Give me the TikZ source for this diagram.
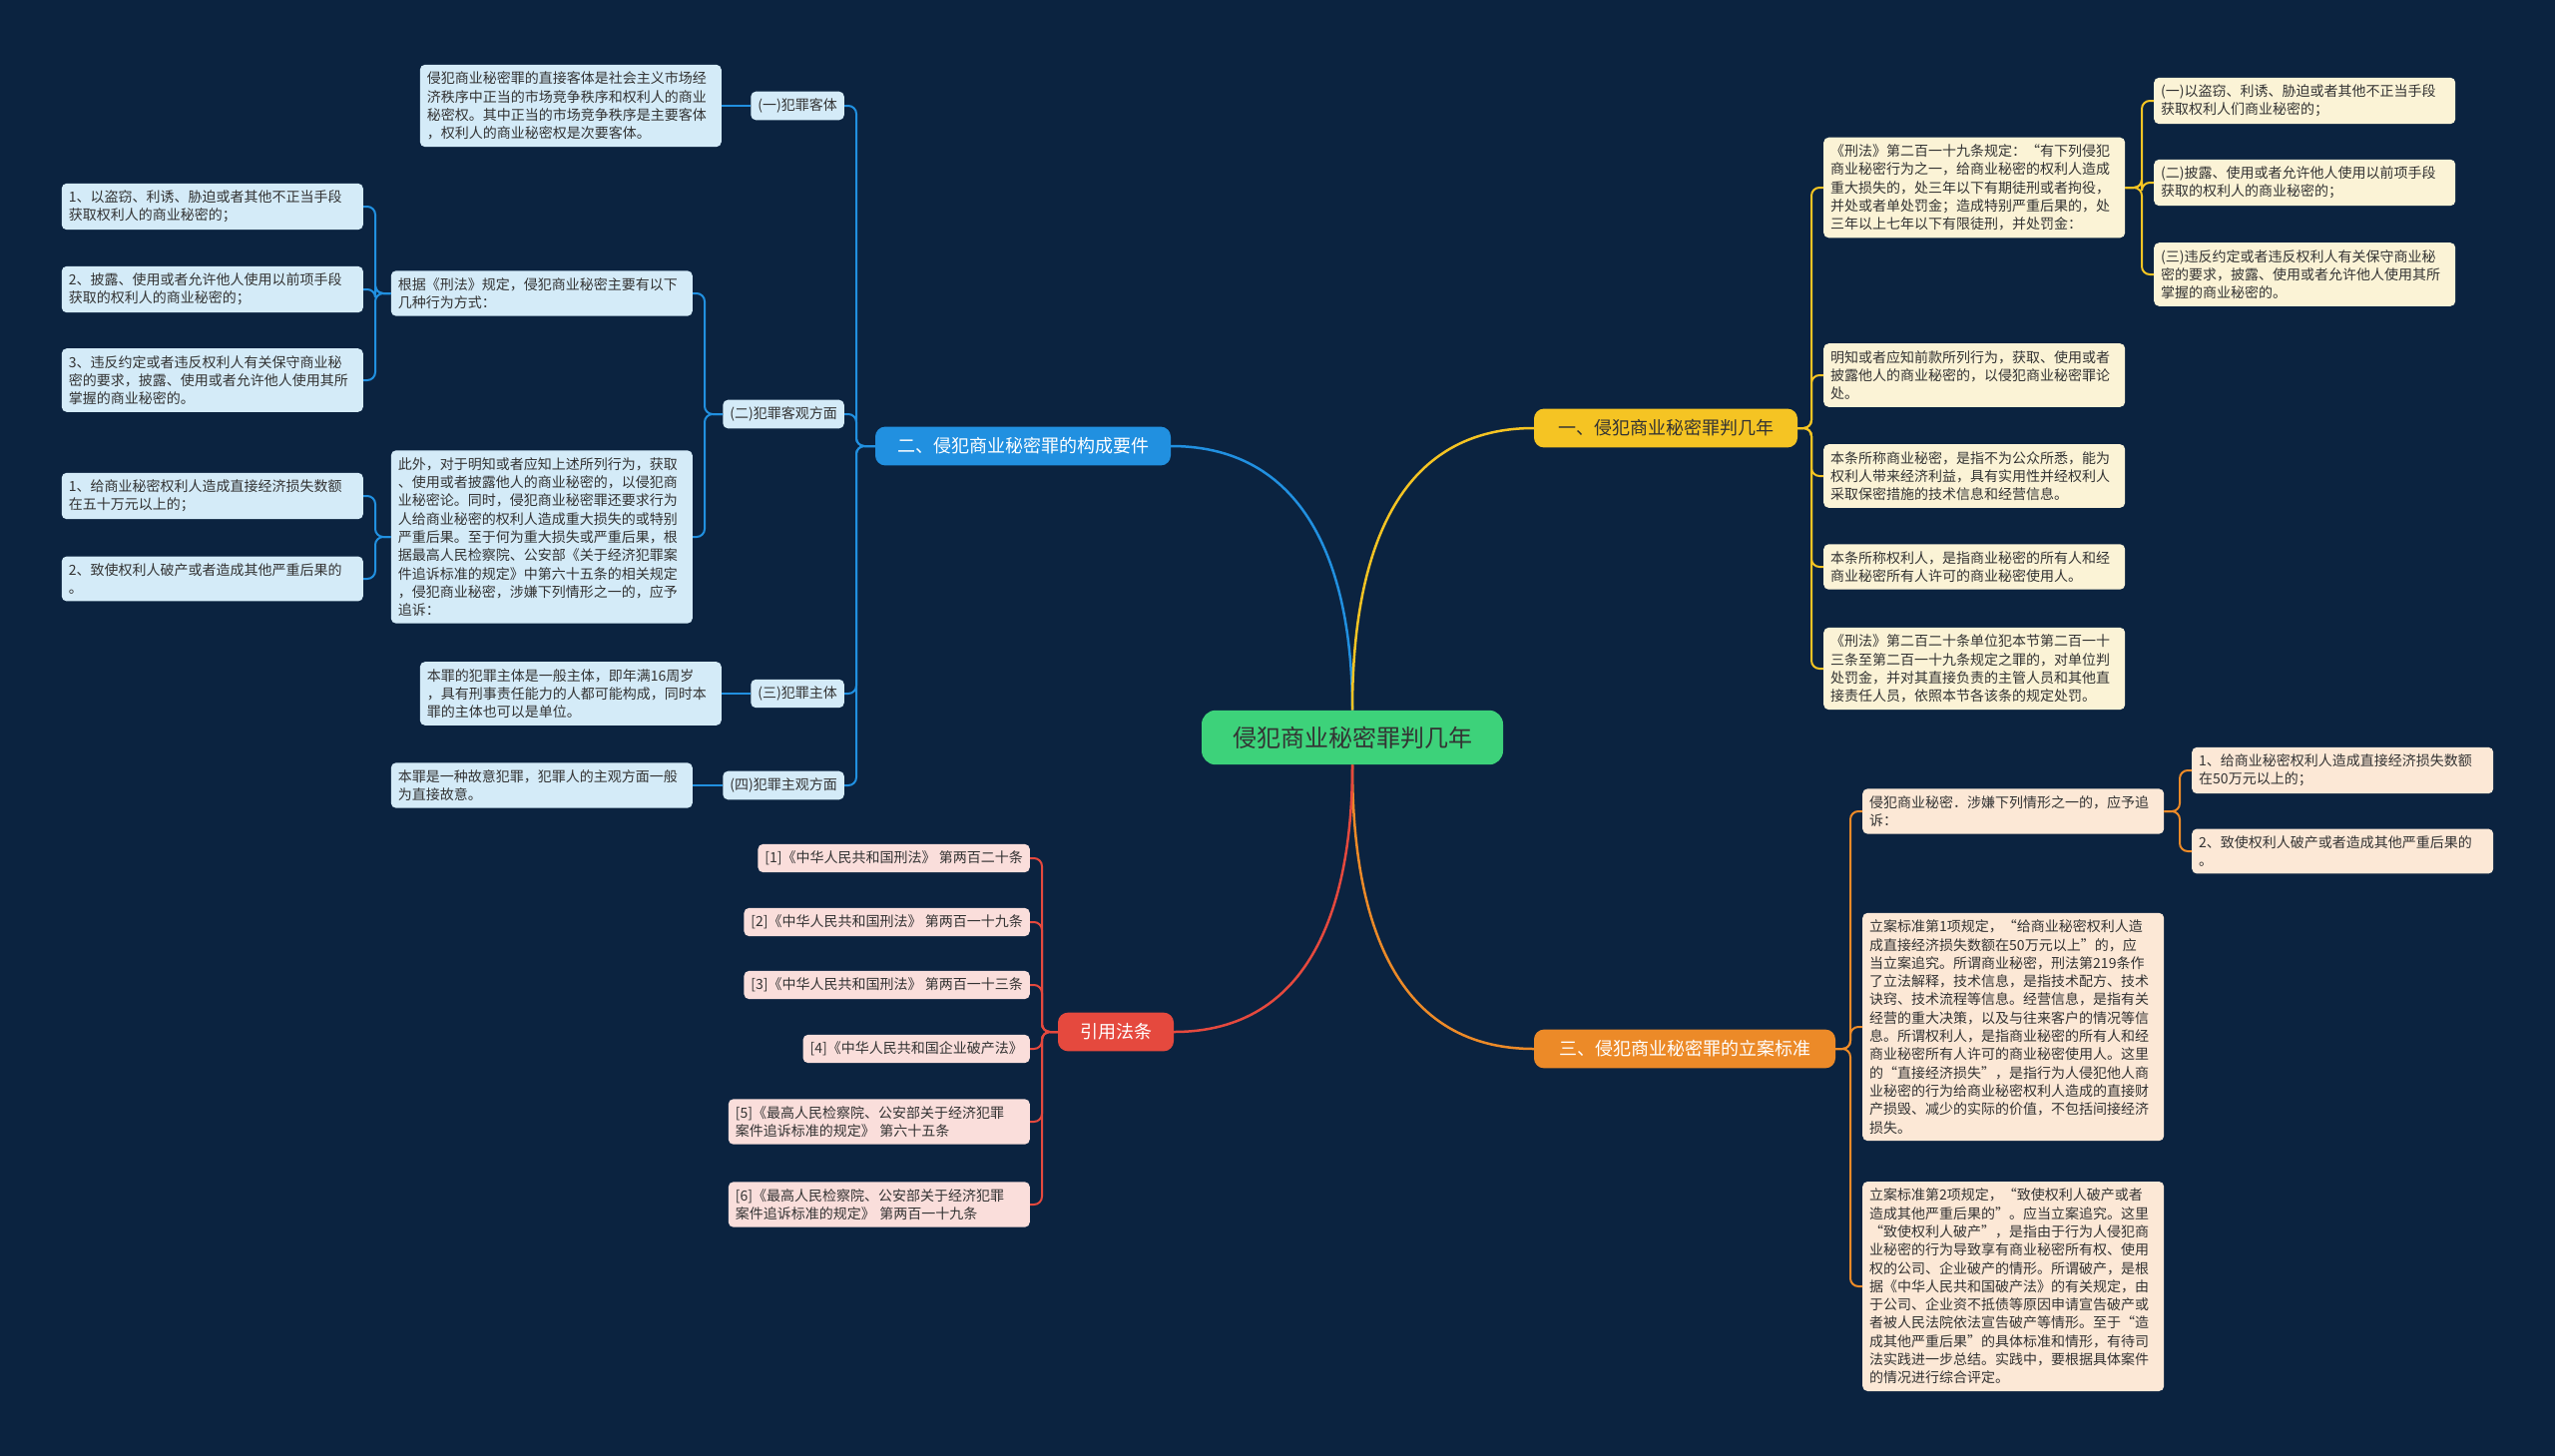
\documentclass[tikz,border=0pt]{standalone}
\usepackage{fontspec}
\setmainfont{Noto Sans CJK SC}
\usetikzlibrary{calc}
\definecolor{bgnavy}{HTML}{0B2340}
\definecolor{rootgreen}{HTML}{3DD27A}
\definecolor{bblue}{HTML}{2190E0}
\definecolor{byellow}{HTML}{F5C423}
\definecolor{borange}{HTML}{EC8A28}
\definecolor{bred}{HTML}{E5493E}
\definecolor{fblue}{HTML}{D4EBF8}
\definecolor{fyellow}{HTML}{FBF3D6}
\definecolor{forange}{HTML}{FCE8D6}
\definecolor{fred}{HTML}{FADEDB}
\definecolor{leaftext}{HTML}{333333}
\newcommand\leaffont{\fontsize{14pt}{18.3pt}\selectfont}
\begin{document}
\begin{tikzpicture}[x=1pt,y=-1pt,
  leaf/.style={rounded corners=5pt,inner xsep=7pt,inner ysep=7pt,align=left,font=\leaffont,text=leaftext},
  wide/.style={text width=288pt},
  bleaf/.style={leaf,fill=fblue},
  yleaf/.style={leaf,fill=fyellow},
  oleaf/.style={leaf,fill=forange},
  rleaf/.style={leaf,fill=fred},
  branch/.style={rounded corners=10pt,inner ysep=11pt,font=\fontsize{18pt}{20pt}\selectfont},
  blink/.style={draw=bblue,line width=2pt,rounded corners=8pt},
  ylink/.style={draw=byellow,line width=2pt,rounded corners=8pt},
  olink/.style={draw=borange,line width=2pt,rounded corners=8pt},
  rlink/.style={draw=bred,line width=2pt,rounded corners=8pt}]
\useasboundingbox (0,0) rectangle (2560,1459);
\fill[bgnavy] (0,0) rectangle (2560,1459);
%%%% root and main branches
\node[rounded corners=14pt,fill=rootgreen,inner xsep=31pt,inner ysep=16pt,font=\fontsize{24pt}{26pt}\selectfont,text=leaftext] (root) at (1355,739) {侵犯商业秘密罪判几年};
\node[branch,fill=bblue,text=white,inner xsep=22pt] (b2) at (1025,447) {二、侵犯商业秘密罪的构成要件};
\node[branch,fill=byellow,text=leaftext,inner xsep=24pt] (b1) at (1669,429) {一、侵犯商业秘密罪判几年};
\node[branch,fill=borange,text=white,inner xsep=25pt] (b3) at (1688,1051) {三、侵犯商业秘密罪的立案标准};
\node[branch,fill=bred,text=white,inner xsep=22pt] (cite) at (1118,1034) {引用法条};
\draw[bblue,line width=2.5pt] (root.north) to[out=90,in=0,looseness=1.1] (b2.east);
\draw[byellow,line width=2.5pt] (root.north) to[out=90,in=180,looseness=1.1] (b1.west);
\draw[borange,line width=2.5pt] (root.south) to[out=-90,in=180,looseness=1.1] (b3.west);
\draw[bred,line width=2.5pt] (root.south) to[out=-90,in=0,looseness=1.1] (cite.east);
%%%% left: constituent elements
\node[bleaf,anchor=east] (ke) at (846,106) {(一)犯罪客体};
\node[bleaf,anchor=east] (kg) at (846,415) {(二)犯罪客观方面};
\node[bleaf,anchor=east] (zt) at (846,695) {(三)犯罪主体};
\node[bleaf,anchor=east] (zg) at (846,787) {(四)犯罪主观方面};
\foreach \c in {ke,kg,zt,zg}
\draw[blink] (b2.west) -| ([xshift=12pt]\c.east) -- (\c.east);
\node[bleaf,wide,anchor=east] (ke1) at (723,106) {侵犯商业秘密罪的直接客体是社会主义市场经\\济秩序中正当的市场竞争秩序和权利人的商业\\秘密权。其中正当的市场竞争秩序是主要客体\\，权利人的商业秘密权是次要客体。};
\draw[blink] (ke.west) -- (ke1.east);
\node[bleaf,wide,anchor=east] (kgA) at (694,294) {根据《刑法》规定，侵犯商业秘密主要有以下\\几种行为方式：};
\node[bleaf,wide,anchor=east] (kgB) at (694,538) {此外，对于明知或者应知上述所列行为，获取\\、使用或者披露他人的商业秘密的，以侵犯商\\业秘密论。同时，侵犯商业秘密罪还要求行为\\人给商业秘密的权利人造成重大损失的或特别\\严重后果。至于何为重大损失或严重后果，根\\据最高人民检察院、公安部《关于经济犯罪案\\件追诉标准的规定》中第六十五条的相关规定\\，侵犯商业秘密，涉嫌下列情形之一的，应予\\追诉：};
\foreach \c in {kgA,kgB}
\draw[blink] (kg.west) -| ([xshift=12pt]\c.east) -- (\c.east);
\node[bleaf,wide,anchor=east] (kgA1) at (364,207) {1、以盗窃、利诱、胁迫或者其他不正当手段\\获取权利人的商业秘密的；};
\node[bleaf,wide,anchor=east] (kgA2) at (364,290) {2、披露、使用或者允许他人使用以前项手段\\获取的权利人的商业秘密的；};
\node[bleaf,wide,anchor=east] (kgA3) at (364,381) {3、违反约定或者违反权利人有关保守商业秘\\密的要求，披露、使用或者允许他人使用其所\\掌握的商业秘密的。};
\foreach \c in {kgA1,kgA2,kgA3}
\draw[blink] (kgA.west) -| ([xshift=12pt]\c.east) -- (\c.east);
\node[bleaf,wide,anchor=east] (kgB1) at (364,497) {1、给商业秘密权利人造成直接经济损失数额\\在五十万元以上的；};
\node[bleaf,wide,anchor=east] (kgB2) at (364,580) {2、致使权利人破产或者造成其他严重后果的\\。};
\foreach \c in {kgB1,kgB2}
\draw[blink] (kgB.west) -| ([xshift=12pt]\c.east) -- (\c.east);
\node[bleaf,wide,anchor=east] (zt1) at (723,695) {本罪的犯罪主体是一般主体，即年满16周岁\\，具有刑事责任能力的人都可能构成，同时本\\罪的主体也可以是单位。};
\draw[blink] (zt.west) -- (zt1.east);
\node[bleaf,wide,anchor=east] (zg1) at (694,787) {本罪是一种故意犯罪，犯罪人的主观方面一般\\为直接故意。};
\draw[blink] (zg.west) -- (zg1.east);
%%%% right top: sentencing
\node[yleaf,wide,anchor=west] (xf) at (1827,188) {《刑法》第二百一十九条规定：“有下列侵犯\\商业秘密行为之一，给商业秘密的权利人造成\\重大损失的，处三年以下有期徒刑或者拘役，\\并处或者单处罚金；造成特别严重后果的，处\\三年以上七年以下有限徒刑，并处罚金：};
\node[yleaf,wide,anchor=west] (mz) at (1827,376) {明知或者应知前款所列行为，获取、使用或者\\披露他人的商业秘密的，以侵犯商业秘密罪论\\处。};
\node[yleaf,wide,anchor=west] (sm) at (1827,477) {本条所称商业秘密，是指不为公众所悉，能为\\权利人带来经济利益，具有实用性并经权利人\\采取保密措施的技术信息和经营信息。};
\node[yleaf,wide,anchor=west] (ql) at (1827,568) {本条所称权利人，是指商业秘密的所有人和经\\商业秘密所有人许可的商业秘密使用人。};
\node[yleaf,wide,anchor=west] (dw) at (1827,670) {《刑法》第二百二十条单位犯本节第二百一十\\三条至第二百一十九条规定之罪的，对单位判\\处罚金，并对其直接负责的主管人员和其他直\\接责任人员，依照本节各该条的规定处罚。};
\foreach \c in {xf,mz,sm,ql,dw}
\draw[ylink] (b1.east) -| ([xshift=-12pt]\c.west) -- (\c.west);
\node[yleaf,wide,anchor=west] (xf1) at (2158,101) {(一)以盗窃、利诱、胁迫或者其他不正当手段\\获取权利人们商业秘密的；};
\node[yleaf,wide,anchor=west] (xf2) at (2158,183) {(二)披露、使用或者允许他人使用以前项手段\\获取的权利人的商业秘密的；};
\node[yleaf,wide,anchor=west] (xf3) at (2158,275) {(三)违反约定或者违反权利人有关保守商业秘\\密的要求，披露、使用或者允许他人使用其所\\掌握的商业秘密的。};
\foreach \c in {xf1,xf2,xf3}
\draw[ylink] (xf.east) -| ([xshift=-12pt]\c.west) -- (\c.west);
%%%% right bottom: filing standard
\node[oleaf,wide,anchor=west] (zs) at (1866,813) {侵犯商业秘密．涉嫌下列情形之一的，应予追\\诉：};
\node[oleaf,wide,anchor=west] (bz1) at (1866,1029) {立案标准第1项规定，“给商业秘密权利人造\\成直接经济损失数额在50万元以上”的，应\\当立案追究。所谓商业秘密，刑法第219条作\\了立法解释，技术信息，是指技术配方、技术\\诀窍、技术流程等信息。经营信息，是指有关\\经营的重大决策，以及与往来客户的情况等信\\息。所谓权利人，是指商业秘密的所有人和经\\商业秘密所有人许可的商业秘密使用人。这里\\的“直接经济损失”，是指行为人侵犯他人商\\业秘密的行为给商业秘密权利人造成的直接财\\产损毁、减少的实际的价值，不包括间接经济\\损失。};
\node[oleaf,wide,anchor=west] (bz2) at (1866,1289) {立案标准第2项规定，“致使权利人破产或者\\造成其他严重后果的”。应当立案追究。这里\\“致使权利人破产”，是指由于行为人侵犯商\\业秘密的行为导致享有商业秘密所有权、使用\\权的公司、企业破产的情形。所谓破产，是根\\据《中华人民共和国破产法》的有关规定，由\\于公司、企业资不抵债等原因申请宣告破产或\\者被人民法院依法宣告破产等情形。至于“造\\成其他严重后果”的具体标准和情形，有待司\\法实践进一步总结。实践中，要根据具体案件\\的情况进行综合评定。};
\foreach \c in {zs,bz1,bz2}
\draw[olink] (b3.east) -| ([xshift=-12pt]\c.west) -- (\c.west);
\node[oleaf,wide,anchor=west] (zs1) at (2196,772) {1、给商业秘密权利人造成直接经济损失数额\\在50万元以上的；};
\node[oleaf,wide,anchor=west] (zs2) at (2196,853) {2、致使权利人破产或者造成其他严重后果的\\。};
\foreach \c in {zs1,zs2}
\draw[olink] (zs.east) -| ([xshift=-12pt]\c.west) -- (\c.west);
%%%% left bottom: cited articles
\node[rleaf,anchor=east] (fa1) at (1032,860) {[1]《中华人民共和国刑法》 第两百二十条};
\node[rleaf,anchor=east] (fa2) at (1032,924) {[2]《中华人民共和国刑法》 第两百一十九条};
\node[rleaf,anchor=east] (fa3) at (1032,987) {[3]《中华人民共和国刑法》 第两百一十三条};
\node[rleaf,anchor=east] (fa4) at (1032,1051) {[4]《中华人民共和国企业破产法》};
\node[rleaf,wide,anchor=east] (fa5) at (1032,1124) {[5]《最高人民检察院、公安部关于经济犯罪\\案件追诉标准的规定》 第六十五条};
\node[rleaf,wide,anchor=east] (fa6) at (1032,1207) {[6]《最高人民检察院、公安部关于经济犯罪\\案件追诉标准的规定》 第两百一十九条};
\foreach \c in {fa1,fa2,fa3,fa4,fa5,fa6}
\draw[rlink] (cite.west) -| ([xshift=12pt]\c.east) -- (\c.east);
\end{tikzpicture}
\end{document}
